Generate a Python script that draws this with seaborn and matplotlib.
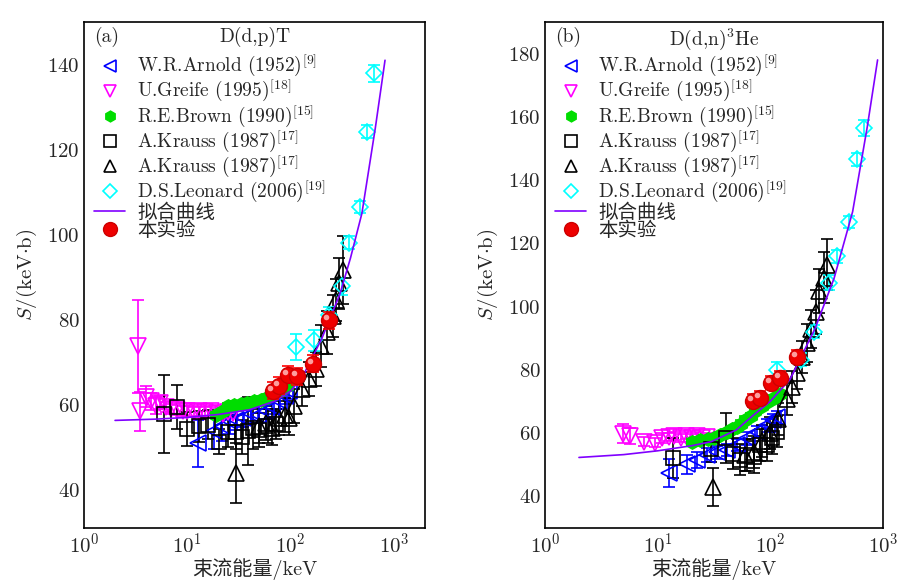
import matplotlib
matplotlib.use('Agg')
import matplotlib.pyplot as plt
from matplotlib.lines import Line2D
from matplotlib.transforms import offset_copy
import seaborn as sns
import pandas as pd

# ---- panel (a): D(d,p)T ----
a_arnold_e = [12.7, 18.3, 21.5, 25.6, 29.6, 34.4, 41.4, 48, 57.6, 66, 77.7, 88, 97.4]
a_arnold_s = [50.9, 53.8, 55.0, 56.1, 56.5, 56.9, 57.7, 57.6, 58.4, 59.5, 60.8, 62.0, 63.1]
a_arnold_err = [5.5, 4.3, 3.5, 3, 2.5, 2.2, 2, 2, 1.8, 1.8, 1.8, 1.8, 1.8]

a_greife_e = [3.3, 3.5, 4.0, 4.5, 5.0, 5.5, 6.2, 7, 8, 9, 10, 11.5, 13, 15, 17, 19.5, 22, 25, 28]
a_greife_s = [73.7, 58.4, 61.9, 60.8, 59.8, 60.5, 59.5, 59.0, 58.8, 58.5, 58.6, 58.3, 58.6, 58.2, 58.4, 58.0, 57.9, 58.2, 58.0]
a_greife_err = [11, 4.5, 2.5, 2, 2, 1.5, 1.2, 1.2, 1.2, 1.2, 1.2, 1.2, 1.2, 1.2, 1.2, 1.2, 1.2, 1.2, 1.2]

a_brown_e = [19, 22, 25, 28.5, 33, 38, 44, 51.8, 60, 69.6, 80, 92]
a_brown_s = [57.6, 58.5, 59.6, 60.0, 60.1, 60.4, 60.8, 61.2, 61.8, 62.5, 63.5, 64.5]
a_brown_err = [0.8] * 12

a_ksq_e = [6.0, 7.9, 9.9, 13.1, 16, 20.4, 25, 29.6, 34, 38.4, 43, 50, 60, 72]
a_ksq_s = [57.8, 59.4, 54.2, 54.9, 55.3, 51.3, 53.5, 53.6, 52.5, 53.8, 54.5, 54.0, 55.0, 55.5]
a_ksq_err = [9.2, 5.2, 4, 3.6, 3.4, 3, 3.5, 4, 4, 8, 5, 4, 4, 3.5]

a_ktri_e = [29.6, 50, 57.6, 66, 77.7, 88, 97.4, 108, 130, 151, 176, 196, 227, 255, 276, 294, 318]
a_ktri_s = [43.9, 55.0, 55.7, 54.5, 56.8, 57.5, 56.8, 59.8, 63.7, 66.0, 68.4, 73.8, 77.0, 80.9, 84.6, 88.5, 91.6]
a_ktri_err = [7, 4, 4, 4, 4, 4, 4, 4, 4, 4, 4, 5, 5, 5, 5, 6, 8]

a_leo_e = [112, 169, 236, 312, 367, 469, 552, 640]
a_leo_s = [73.6, 75.1, 81.0, 87.9, 98.1, 106.5, 124.2, 137.9]
a_leo_err = [3, 2.5, 2, 2, 1.5, 1.5, 1.5, 2]

a_fit_e = [2, 5, 10, 20, 40, 70, 100, 130, 200, 300, 380, 490, 660, 820]
a_fit_s = [56.3, 56.6, 57.0, 57.7, 58.8, 60.8, 63.2, 66.5, 75.5, 86, 94.5, 105, 125, 141]

a_this_e = [68, 78, 94, 116, 166, 236]
a_this_s = [63.3, 64.4, 67.0, 66.7, 69.6, 79.9]
a_this_err = [2, 2, 2, 2, 2, 2]

# ---- panel (b): D(d,n)3He ----
b_arnold_e = [12.5, 18.2, 22.4, 27.5, 33.8, 41.5, 50.9, 62.5, 76.7, 94.2, 105, 115.6]
b_arnold_s = [47.4, 50.2, 51.6, 53.1, 53.9, 54.7, 56.2, 58.3, 60.4, 62.5, 64.0, 65.0]
b_arnold_err = [4.5, 3, 2.5, 2.2, 2, 2, 2, 2, 2, 2, 2, 2]

b_greife_e = [4.9, 5.7, 7.5, 9.5, 10.9, 12.5, 14, 16, 18, 20, 22.5, 25, 27.5]
b_greife_s = [59.8, 59.1, 57.3, 57.0, 58.5, 58.8, 59.0, 58.5, 59.2, 58.6, 59.0, 58.3, 58.8]
b_greife_err = [3, 2.5, 1.5, 1.5, 1.5, 1.2, 1.2, 1.2, 1.2, 1.2, 1.2, 1.2, 1.2]

b_brown_e = [20.1, 24, 28, 31.4, 36, 41.5, 46, 50.9, 55, 60, 67, 73.9, 84, 94.2, 108, 123]
b_brown_s = [57.3, 57.8, 58.0, 58.5, 59.5, 60.4, 61.2, 61.9, 63.0, 64.3, 65.5, 67.1, 68.5, 69.7, 71.0, 72.3]
b_brown_err = [1.0] * 16

b_ksq_e = [13.7, 30, 40.6, 47, 54.3, 62, 71.3, 81.6, 94, 104, 115]
b_ksq_s = [52.1, 55.0, 58.5, 53.5, 51.6, 53.0, 52.5, 56.2, 56.2, 58.3, 60.5]
b_ksq_err = [6.2, 4, 8, 5, 5, 5, 5, 5, 5, 5, 5]

b_ktri_e = [30.8, 60, 71.3, 85, 100, 118, 141, 157, 173, 192, 212, 232, 253, 269, 299, 321]
b_ktri_s = [42.9, 53.0, 54.1, 57.5, 60.0, 64.5, 70.7, 74.5, 79.1, 84.0, 88.4, 93, 98.3, 105, 109.2, 113.3]
b_ktri_err = [6, 5, 5, 5, 5, 5, 5, 5, 5, 5, 6, 6, 7, 7, 8, 8]

b_leo_e = [115, 186, 244, 331, 394, 499, 593, 679]
b_leo_s = [80.1, 83.2, 92.1, 107.6, 115.9, 126.8, 146.6, 156.4]
b_leo_err = [2.5, 2, 2, 2.5, 2, 2, 2, 2.5]

b_fit_e = [2, 5, 10, 20, 30, 50, 70, 100, 150, 200, 250, 370, 540, 730, 900]
b_fit_s = [52.3, 53.2, 54.4, 56, 57.3, 61, 65.5, 70, 77, 86, 93, 109, 130, 157, 178]

b_this_e = [71, 82, 101, 123, 173]
b_this_s = [70.3, 71.2, 76.0, 77.5, 84.2]
b_this_err = [2, 2, 2, 2, 2]

labels = ['W.R.Arnold (1952)$^{[9]}$', 'U.Greife (1995)$^{[18]}$',
          'R.E.Brown (1990)$^{[15]}$', 'A.Krauss (1987)$^{[17]}$',
          'A.Krauss (1987)$^{[17]}$', 'D.S.Leonard (2006)$^{[19]}$',
          '拟合曲线', '本实验']

sns.set_theme(style='white')
plt.rcParams['font.family'] = ['cmr10', 'Noto Sans CJK SC', 'DejaVu Serif']
plt.rcParams['mathtext.fontset'] = 'cm'
plt.rcParams['axes.formatter.use_mathtext'] = True
plt.rcParams['axes.unicode_minus'] = False

# marker, face, edge, size
styles = [('<', 'none', '#0000ff', 11), ('v', 'none', '#ff00ff', 11),
          ('h', '#00dd00', '#00dd00', 9.5), ('s', 'none', 'black', 10),
          ('^', 'none', 'black', 11), ('D', 'none', '#00ffff', 8.5)]
FIT_COLOR = '#8000ff'


def draw_panel(ax, sets, fit_e, fit_s, this, xlim, ylim, yticks, tag, title):
    for (e, s, err), (m, fc, ec, ms) in zip(sets, styles):
        ax.errorbar(e, s, yerr=err, fmt=m, mfc=fc, mec=ec, ecolor=ec, ms=ms,
                    mew=1.2, elinewidth=1.2, capsize=4.5, capthick=1.2, zorder=3)
    fit = pd.DataFrame({'E': fit_e, 'S': fit_s})
    sns.lineplot(data=fit, x='E', y='S', ax=ax, color=FIT_COLOR, lw=1.2, zorder=4)
    te, ts, terr = this
    ax.errorbar(te, ts, yerr=terr, fmt='none', ecolor='red', elinewidth=1.2,
                capsize=4.5, capthick=1.2, zorder=5)
    ax.plot(te, ts, 'o', color='#ee0000', mec='#cc0000', ms=11.5, zorder=6)
    hl = offset_copy(ax.transData, fig=ax.figure, x=-3, y=3, units='dots')
    ax.plot(te, ts, 'o', color='#ffb0b0', mec='none', ms=4, alpha=0.9,
            transform=hl, zorder=7)

    ax.set_xscale('log')
    ax.set_xlim(*xlim)
    ax.set_ylim(*ylim)
    ax.set_yticks(yticks)
    ax.set_yticks([t + 10 for t in yticks], minor=True)
    ax.tick_params(which='both', direction='in', top=False, right=False,
                   labelsize=15, color='black', pad=3)
    ax.tick_params(which='major', length=5, width=1)
    ax.tick_params(which='minor', length=3, width=0.8)
    for sp in ax.spines.values():
        sp.set_color('black')
        sp.set_linewidth(1.2)
    ax.set_xlabel('束流能量/keV', fontsize=14.5, labelpad=1)
    ax.set_ylabel(r'$S$/(keV$\cdot$b)', fontsize=15, labelpad=6)
    ax.text(0.03, 0.99, tag, transform=ax.transAxes, ha='left', va='top', fontsize=14)
    ax.text(0.5, 0.99, title, transform=ax.transAxes, ha='center', va='top', fontsize=14)

    handles = []
    for m, fc, ec, ms in styles:
        handles.append(Line2D([], [], ls='none', marker=m, mfc=fc, mec=ec,
                              ms=ms * 0.8, mew=1.2))
    handles.append(Line2D([], [], color=FIT_COLOR, lw=1.2))
    handles.append(Line2D([], [], ls='none', marker='o', color='#ee0000', mec='#cc0000', ms=10))
    ax.legend(handles, labels, loc='upper left', bbox_to_anchor=(-0.01, 0.965),
              frameon=False, fontsize=14, handlelength=1.6, handletextpad=0.6,
              labelspacing=-0.05, borderaxespad=0.3)


fig = plt.figure(figsize=(8.98, 5.80), dpi=100)
ax1 = fig.add_axes([0.0935, 0.0897, 0.3798, 0.8724])
ax2 = fig.add_axes([0.607, 0.0897, 0.376, 0.8724])

draw_panel(ax1,
           [(a_arnold_e, a_arnold_s, a_arnold_err), (a_greife_e, a_greife_s, a_greife_err),
            (a_brown_e, a_brown_s, a_brown_err), (a_ksq_e, a_ksq_s, a_ksq_err),
            (a_ktri_e, a_ktri_s, a_ktri_err), (a_leo_e, a_leo_s, a_leo_err)],
           a_fit_e, a_fit_s, (a_this_e, a_this_s, a_this_err),
           (1, 2000), (31, 147.5), [40, 60, 80, 100, 120, 140], '(a)', 'D(d,p)T')

draw_panel(ax2,
           [(b_arnold_e, b_arnold_s, b_arnold_err), (b_greife_e, b_greife_s, b_greife_err),
            (b_brown_e, b_brown_s, b_brown_err), (b_ksq_e, b_ksq_s, b_ksq_err),
            (b_ktri_e, b_ktri_s, b_ktri_err), (b_leo_e, b_leo_s, b_leo_err)],
           b_fit_e, b_fit_s, (b_this_e, b_this_s, b_this_err),
           (1, 1000), (30, 187.5), [40, 60, 80, 100, 120, 140, 160, 180], '(b)', r'D(d,n)$^3$He')

fig.savefig('out.png', dpi=100)
